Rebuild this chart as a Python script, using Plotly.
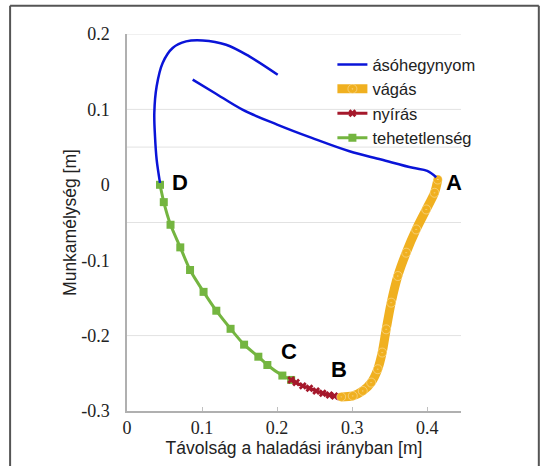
import plotly.graph_objects as go

# ásóhegynyom (tip path) — two segments separated by a gap
tip_x = [0.2008, 0.163, 0.132, 0.1008, 0.0787, 0.0608, 0.0475, 0.0395, 0.0364, 0.0373, 0.0395, 0.044,
         None,
         0.0875, 0.1169, 0.1538, 0.2, 0.2462, 0.2964, 0.3386, 0.3808, 0.400, 0.412]
tip_y = [0.146, 0.1703, 0.1858, 0.1915, 0.1902, 0.1815, 0.1616, 0.1306, 0.0954, 0.0644, 0.0335, 0.0026,
         None,
         0.1395, 0.1218, 0.0997, 0.0799, 0.0622, 0.0445, 0.0335, 0.0225, 0.0185, 0.010]

# vágás (cutting) B -> A
cut_x = [0.2853, 0.3008, 0.3141, 0.3253, 0.3341, 0.34, 0.3453, 0.352, 0.3608, 0.372, 0.3853, 0.3987, 0.4097, 0.4141]
cut_y = [-0.2813, -0.28, -0.2734, -0.2623, -0.2446, -0.2225, -0.1917, -0.1563, -0.121, -0.09, -0.0592, -0.0327, -0.0106, 0.007]

# nyírás (shearing) C -> B
shear_x = [0.2187, 0.2253, 0.2342, 0.2431, 0.252, 0.2608, 0.2697, 0.2764, 0.284]
shear_y = [-0.2588, -0.2623, -0.2667, -0.2698, -0.2734, -0.2764, -0.2787, -0.28, -0.2813]

# tehetetlenség (inertia) D -> C
inert_x = [0.044, 0.049, 0.058, 0.071, 0.084, 0.102, 0.119, 0.138, 0.156, 0.175, 0.187, 0.207, 0.2187]
inert_y = [0.000, -0.023, -0.053, -0.083, -0.113, -0.142, -0.167, -0.191, -0.212, -0.228, -0.239, -0.253, -0.2588]

x_ticks = [0, 0.1, 0.2, 0.3, 0.4]
x_tick_text = ["0", "0.1", "0.2", "0.3", "0.4"]
y_ticks = [0.2, 0.1, 0, -0.1, -0.2, -0.3]
y_tick_text = ["0.2", "0.1", "0", "-0.1", "-0.2", "-0.3"]
grid_y = [0.2, 0.1, 0.05, -0.05, -0.2]

BLUE = "#0A14D8"
ORANGE = "#F0B020"
RED = "#A5182B"
GREEN = "#74B540"
SANS = "Liberation Sans"
SERIF = "Liberation Serif"

fig = go.Figure()
fig.add_trace(go.Scatter(x=inert_x, y=inert_y, mode="lines+markers", name="tehetetlenség",
                         line=dict(color=GREEN, width=3, shape="spline", smoothing=0.6),
                         marker=dict(symbol="square", size=8, color=GREEN), legendrank=4))
fig.add_trace(go.Scatter(x=shear_x, y=shear_y, mode="lines+markers", name="nyírás",
                         line=dict(color=RED, width=3, shape="spline", smoothing=0.6),
                         marker=dict(symbol="x", size=7, color=RED), legendrank=3))
fig.add_trace(go.Scatter(x=cut_x, y=cut_y, mode="lines+markers", name="vágás",
                         line=dict(color=ORANGE, width=9, shape="spline", smoothing=0.8),
                         marker=dict(symbol="circle-dot", size=9, color=ORANGE,
                                     line=dict(color="rgba(255,255,255,0.35)", width=1)),
                         legendrank=2))
fig.add_trace(go.Scatter(x=tip_x, y=tip_y, mode="lines", name="ásóhegynyom",
                         line=dict(color=BLUE, width=2.5, shape="spline", smoothing=1.0),
                         connectgaps=False, legendrank=1))

shapes = []
for g in grid_y:
    shapes.append(dict(type="line", xref="paper", yref="y", x0=0, x1=1, y0=g, y1=g,
                       line=dict(color="#e2e2e2", width=1), layer="below"))
# outer frame (left, top, right edges)
frame = dict(color="#555555", width=2)
shapes.append(dict(type="line", xref="paper", yref="paper", x0=-0.350, x1=-0.350, y0=-0.2, y1=1.075, line=frame))
shapes.append(dict(type="line", xref="paper", yref="paper", x0=-0.350, x1=1.233, y0=1.075, y1=1.075, line=frame))
shapes.append(dict(type="line", xref="paper", yref="paper", x0=1.233, x1=1.233, y0=-0.2, y1=1.075, line=frame))

label_font = dict(family=SANS, size=22, color="black")
annotations = [
    dict(x=0.4356, y=0.0026, text="<b>A</b>", showarrow=False, font=label_font, xref="x", yref="y"),
    dict(x=0.2831, y=-0.2448, text="<b>B</b>", showarrow=False, font=label_font, xref="x", yref="y"),
    dict(x=0.2152, y=-0.2205, text="<b>C</b>", showarrow=False, font=label_font, xref="x", yref="y"),
    dict(x=0.0707, y=0.0026, text="<b>D</b>", showarrow=False, font=label_font, xref="x", yref="y"),
]

fig.update_layout(
    width=546, height=466,
    margin=dict(l=127, r=85, t=34, b=55),
    paper_bgcolor="white", plot_bgcolor="white",
    showlegend=True,
    legend=dict(x=0.615, y=0.965, xanchor="left", yanchor="top", bgcolor="rgba(0,0,0,0)",
                font=dict(family=SANS, size=16.5, color="#222"),
                tracegroupgap=0, itemwidth=30),
    shapes=shapes,
    annotations=annotations,
    xaxis=dict(range=[0, 0.445], tickvals=x_ticks, ticktext=x_tick_text,
               showgrid=False, zeroline=False, showline=True, linecolor="#b0b0b0", linewidth=1.5,
               ticks="inside", ticklen=4, tickcolor="#c0c0c0",
               tickfont=dict(family=SERIF, size=18, color="#222"),
               title=dict(text="Távolság a haladási irányban [m]", standoff=4,
                          font=dict(family=SANS, size=17.5, color="#222"))),
    yaxis=dict(range=[-0.3, 0.2], tickvals=y_ticks, ticktext=y_tick_text,
               showgrid=False, zeroline=False, showline=True, linecolor="#b0b0b0", linewidth=1.5,
               ticks="", ticklabelstandoff=12,
               tickfont=dict(family=SERIF, size=18, color="#222"),
               title=dict(text="Munkamélység [m]", standoff=0,
                          font=dict(family=SANS, size=17.5, color="#222"))),
)

fig.write_html("out.html", config={"displayModeBar": False},
               post_script="document.body.style.margin='0';")
